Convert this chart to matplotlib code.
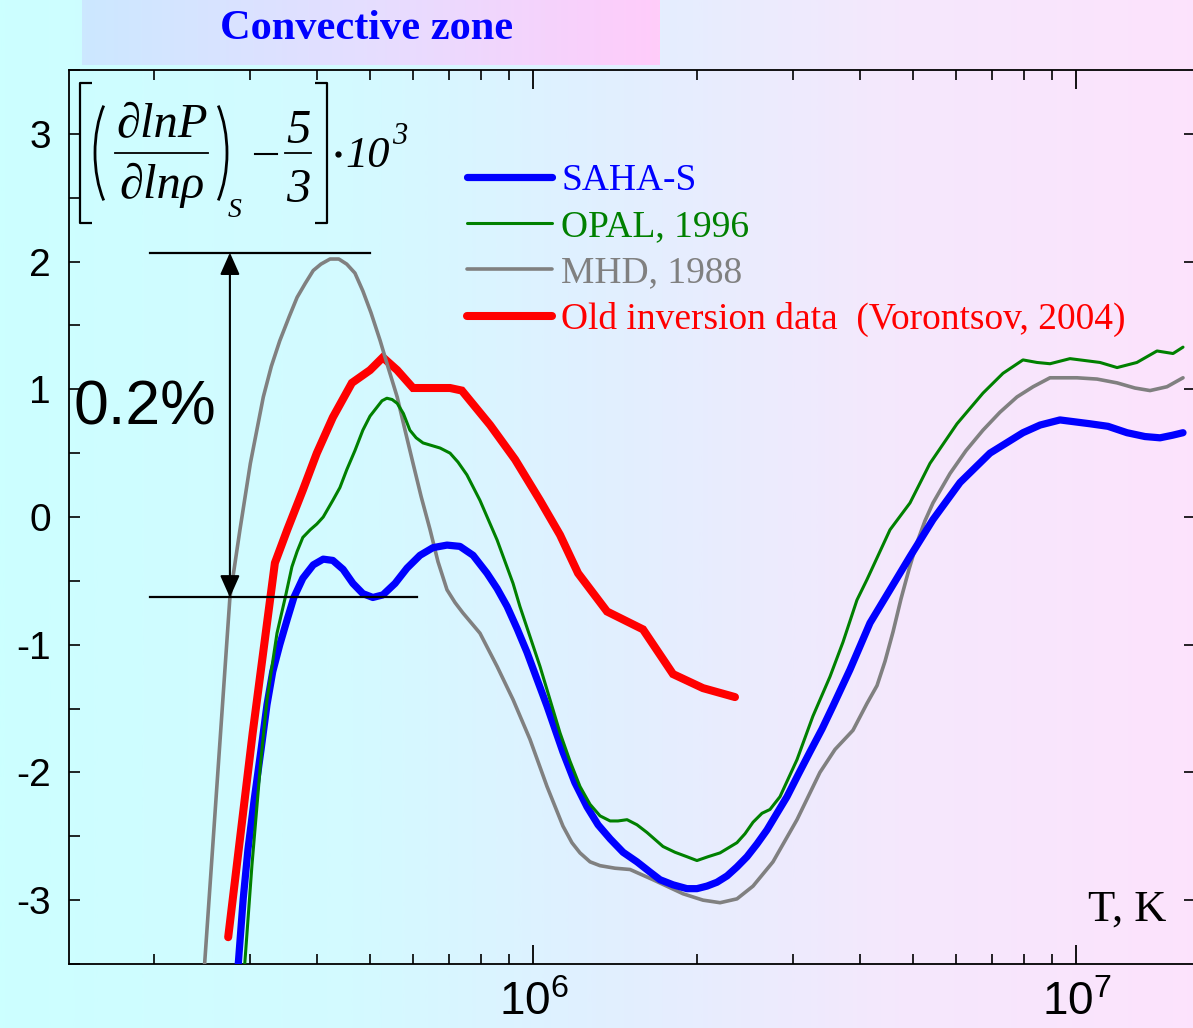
import numpy as np
import matplotlib
matplotlib.use("Agg")
import matplotlib.pyplot as plt
from matplotlib.patches import Arc
from matplotlib.ticker import FixedLocator, LogLocator, MultipleLocator, NullFormatter
from matplotlib.colors import LinearSegmentedColormap

# ---------------- data ----------------
# MHD, 1988
mhd_T = [2.47e5, 2.76e5, 2.88e5, 3.01e5, 3.18e5, 3.29e5, 3.41e5, 3.55e5, 3.67e5, 3.80e5,
         3.93e5, 4.06e5, 4.22e5, 4.38e5, 4.53e5, 4.69e5, 4.85e5, 5.02e5, 5.22e5, 5.40e5,
         5.61e5, 5.80e5, 6.00e5, 6.21e5, 6.45e5, 6.67e5, 6.93e5, 7.17e5, 7.41e5, 7.97e5,
         8.57e5, 9.17e5, 9.85e5, 1.059e6, 1.133e6, 1.177e6, 1.218e6, 1.271e6, 1.326e6, 1.413e6,
         1.506e6, 1.660e6, 1.885e6, 2.052e6, 2.206e6, 2.370e6, 2.537e6, 2.761e6, 3.057e6, 3.369e6,
         3.592e6, 3.876e6, 4.113e6, 4.292e6, 4.440e6, 4.593e6, 4.752e6, 4.915e6, 5.085e6, 5.260e6,
         5.442e6, 5.848e6, 6.26e6, 6.727e6, 7.228e6, 7.770e6, 8.32e6, 8.938e6, 1.002e7, 1.091e7,
         1.188e7, 1.281e7, 1.366e7, 1.468e7, 1.571e7]
mhd_v = [-3.6, -0.63, -0.10, 0.42, 0.94, 1.18, 1.38, 1.57, 1.72, 1.83,
         1.93, 1.98, 2.02, 2.02, 1.98, 1.91, 1.77, 1.60, 1.38, 1.17,
         0.94, 0.68, 0.42, 0.16, -0.10, -0.35, -0.57, -0.67, -0.75, -0.91,
         -1.17, -1.43, -1.74, -2.11, -2.42, -2.55, -2.63, -2.70, -2.73, -2.75,
         -2.76, -2.84, -2.95, -3.00, -3.02, -2.99, -2.89, -2.70, -2.37, -2.00,
         -1.82, -1.67, -1.46, -1.32, -1.13, -0.90, -0.64, -0.41, -0.20, -0.03,
         0.11, 0.34, 0.52, 0.68, 0.82, 0.94, 1.02, 1.09, 1.09, 1.08,
         1.05, 1.01, 0.99, 1.02, 1.09]

# OPAL, 1996
opal_T = [2.93e5, 3.03e5, 3.14e5, 3.23e5, 3.37e5, 3.49e5, 3.59e5, 3.67e5, 3.76e5, 3.88e5,
          3.99e5, 4.10e5, 4.27e5, 4.40e5, 4.53e5, 4.69e5, 4.85e5, 5.00e5, 5.15e5, 5.26e5,
          5.37e5, 5.49e5, 5.61e5, 5.76e5, 5.92e5, 6.08e5, 6.26e5, 6.73e5, 7.02e5, 7.26e5,
          7.54e5, 7.97e5, 8.57e5, 9.17e5, 9.44e5, 1.028e6, 1.119e6, 1.167e6, 1.218e6, 1.271e6,
          1.326e6, 1.384e6, 1.431e6, 1.487e6, 1.551e6, 1.618e6, 1.732e6, 1.822e6, 1.917e6, 2.000e6,
          2.096e6, 2.206e6, 2.370e6, 2.452e6, 2.537e6, 2.635e6, 2.726e6, 2.844e6, 3.057e6, 3.270e6,
          3.516e6, 3.715e6, 3.942e6, 4.113e6, 4.535e6, 4.936e6, 5.373e6, 6.025e6, 6.727e6, 7.322e6,
          7.970e6, 8.46e6, 8.938e6, 9.728e6, 1.105e7, 1.188e7, 1.292e7, 1.407e7, 1.506e7, 1.571e7]
opal_v = [-3.58, -2.73, -1.95, -1.43, -0.91, -0.63, -0.39, -0.27, -0.16, -0.10,
          -0.055, 0.00, 0.13, 0.23, 0.37, 0.52, 0.68, 0.79, 0.86, 0.91,
          0.93, 0.92, 0.89, 0.81, 0.68, 0.62, 0.58, 0.54, 0.50, 0.43,
          0.33, 0.13, -0.18, -0.52, -0.70, -1.17, -1.69, -1.91, -2.11, -2.25,
          -2.34, -2.38, -2.38, -2.37, -2.41, -2.47, -2.58, -2.625, -2.66, -2.69,
          -2.66, -2.63, -2.55, -2.48, -2.39, -2.32, -2.29, -2.19, -1.90, -1.56,
          -1.25, -0.98, -0.65, -0.49, -0.10, 0.11, 0.42, 0.73, 0.97, 1.125,
          1.23, 1.21, 1.20, 1.24, 1.21, 1.17, 1.21, 1.30, 1.28, 1.33]

# SAHA-S
saha_T = [2.85e5, 2.92e5, 2.98e5, 3.06e5, 3.15e5, 3.23e5, 3.31e5, 3.41e5, 3.52e5, 3.62e5,
          3.76e5, 3.93e5, 4.10e5, 4.27e5, 4.46e5, 4.65e5, 4.85e5, 5.06e5, 5.28e5, 5.56e5,
          5.85e5, 6.18e5, 6.53e5, 6.93e5, 7.32e5, 7.74e5, 8.21e5, 8.57e5, 8.94e5, 9.33e5,
          9.73e5, 1.015e6, 1.059e6, 1.133e6, 1.192e6, 1.255e6, 1.315e6, 1.384e6, 1.462e6, 1.551e6,
          1.639e6, 1.710e6, 1.807e6, 1.917e6, 2.000e6, 2.087e6, 2.177e6, 2.273e6, 2.370e6, 2.473e6,
          2.580e6, 2.692e6, 2.808e6, 2.930e6, 3.070e6, 3.229e6, 3.399e6, 3.561e6, 3.827e6, 4.166e6,
          4.535e6, 4.936e6, 5.442e6, 6.103e6, 6.930e6, 7.970e6, 8.57e6, 9.324e6, 1.059e7, 1.143e7,
          1.239e7, 1.337e7, 1.425e7, 1.502e7, 1.571e7]
saha_v = [-3.58, -2.99, -2.60, -2.21, -1.82, -1.47, -1.21, -1.00, -0.80, -0.63,
          -0.48, -0.375, -0.33, -0.34, -0.41, -0.52, -0.60, -0.63, -0.61, -0.52,
          -0.40, -0.30, -0.24, -0.22, -0.23, -0.30, -0.44, -0.56, -0.70, -0.875,
          -1.06, -1.27, -1.48, -1.84, -2.08, -2.27, -2.41, -2.52, -2.625, -2.70,
          -2.78, -2.84, -2.88, -2.91, -2.91, -2.89, -2.86, -2.81, -2.74, -2.66,
          -2.56, -2.45, -2.32, -2.19, -2.02, -1.84, -1.66, -1.48, -1.195, -0.83,
          -0.57, -0.31, -0.02, 0.27, 0.50, 0.66, 0.72, 0.76, 0.73, 0.71,
          0.66, 0.63, 0.62, 0.64, 0.66]

# Old inversion data (Vorontsov, 2004)
inv_T = [2.74e5, 3.04e5, 3.34e5, 3.52e5, 3.76e5, 3.99e5, 4.27e5, 4.63e5, 5.00e5, 5.28e5,
         5.61e5, 6.00e5, 7.02e5, 7.38e5, 8.32e5, 9.25e5, 1.028e6, 1.119e6, 1.208e6, 1.366e6,
         1.591e6, 1.807e6, 2.052e6, 2.350e6]
inv_v = [-3.29, -1.69, -0.36, -0.10, 0.21, 0.50, 0.78, 1.05, 1.15, 1.25,
         1.15, 1.01, 1.01, 0.99, 0.72, 0.45, 0.13, -0.14, -0.44, -0.74,
         -0.88, -1.23, -1.34, -1.41]

series_labels = ["SAHA-S", "OPAL, 1996", "MHD, 1988", "Old inversion data  (Vorontsov, 2004)"]
series_colors = ["#0000ff", "#008000", "#808080", "#ff0000"]
series_widths = [5.2, 2.2, 2.6, 5.8]

x_ticks = [1e6, 1e7]
x_tick_labels = [r"$10^6$", r"$10^7$"]
y_ticks = [-3, -2, -1, 0, 1, 2, 3]

# range marked by the double arrow
range_top, range_bottom = 2.07, -0.63

# ---------------- figure ----------------
W, H = 1193, 1028
plt.rcParams["mathtext.fontset"] = "custom"
plt.rcParams["mathtext.rm"] = "Liberation Sans"
plt.rcParams["mathtext.it"] = "Liberation Sans:italic"
plt.rcParams["mathtext.bf"] = "Liberation Sans:bold"
plt.rcParams["font.family"] = "Liberation Sans"

fig = plt.figure(figsize=(W / 100, H / 100), dpi=100)


def fx(px):
    return px / W


def fy(py):
    return 1 - py / H


# background gradient (cyan -> light blue -> pink)
bg = fig.add_axes([0, 0, 1, 1], zorder=-10)
bg_cmap = LinearSegmentedColormap.from_list(
    "bg", [(0.0, (0.80, 1.00, 1.00)), (0.30, (0.83, 0.98, 1.00)), (0.50, (0.88, 0.94, 1.00)),
           (0.75, (0.96, 0.91, 0.99)), (1.0, (0.99, 0.89, 0.99))])
bg.imshow(np.linspace(0, 1, 600)[None, :], aspect="auto", cmap=bg_cmap, extent=[0, 1, 0, 1])
bg.axis("off")

# banner
ban = fig.add_axes([fx(82), fy(65), fx(660 - 82), 65 / H], zorder=-5)
ban_cmap = LinearSegmentedColormap.from_list(
    "ban", [(0.0, (0.80, 0.91, 1.00)), (0.5, (0.90, 0.87, 1.00)), (1.0, (1.00, 0.80, 0.98))])
ban.imshow(np.linspace(0, 1, 300)[None, :], aspect="auto", cmap=ban_cmap, extent=[0, 1, 0, 1])
ban.axis("off")
fig.text(fx(367), fy(29), "Convective zone", ha="center", va="center",
         family="Liberation Serif", weight="bold", size=30.5, color="#0000ff")

# main axes
ax = fig.add_axes([fx(69), fy(964), fx(1195 - 69), (964 - 70) / H])
ax.patch.set_alpha(0)
ax.set_xscale("log")
ax.set_xlim(1.395e5, 1.653e7)
ax.set_ylim(-3.5, 3.5)

ax.plot(inv_T, inv_v, color=series_colors[3], lw=series_widths[3], solid_capstyle="round",
        solid_joinstyle="miter", zorder=3)
ax.plot(mhd_T, mhd_v, color=series_colors[2], lw=series_widths[2], solid_capstyle="round",
        solid_joinstyle="round", zorder=4)
ax.plot(saha_T, saha_v, color=series_colors[0], lw=series_widths[0], solid_capstyle="round",
        solid_joinstyle="round", zorder=5)
ax.plot(opal_T, opal_v, color=series_colors[1], lw=series_widths[1], solid_capstyle="round",
        solid_joinstyle="round", zorder=6)

# 0.2% range marker
ax.plot([1.97e5, 5.0e5], [range_top, range_top], color="k", lw=1.6, zorder=7)
ax.plot([1.97e5, 6.1e5], [range_bottom, range_bottom], color="k", lw=1.6, zorder=7)
ax.annotate("", xy=(2.76e5, range_top), xytext=(2.76e5, range_bottom),
            arrowprops=dict(arrowstyle="<|-|>,head_length=0.45,head_width=0.2", color="k",
                            lw=1.5, mutation_scale=30, shrinkA=0, shrinkB=0), zorder=7)
fig.text(fx(73), fy(408), "0.2%", ha="left", va="center", size=45, family="Liberation Sans")

# ticks
ax.xaxis.set_major_locator(FixedLocator(x_ticks))
ax.set_xticklabels(x_tick_labels)
ax.xaxis.set_minor_locator(LogLocator(base=10, subs=np.arange(2, 10)))
ax.xaxis.set_minor_formatter(NullFormatter())
ax.set_yticks(y_ticks)
ax.set_yticklabels([str(v) for v in y_ticks])
ax.yaxis.set_minor_locator(MultipleLocator(0.5))

ax.tick_params(axis="x", which="major", direction="in", top=True, bottom=True,
               length=14, width=1.3, labelsize=33, pad=12)
ax.tick_params(axis="x", which="minor", direction="in", top=True, bottom=True,
               length=7, width=1.2)
ax.tick_params(axis="y", which="major", direction="in", left=True, right=True,
               length=8, width=1.2, labelsize=28, pad=13)
ax.tick_params(axis="y", which="minor", direction="in", left=True, right=False,
               length=8, width=1.2)
for sp in ax.spines.values():
    sp.set_linewidth(1.3)

# axis title
fig.text(fx(1166), fy(910), "T, K", ha="right", va="center", size=32,
         family="Liberation Serif")

# legend
legend_rows = [177, 223, 269, 316]
for lab, col, lw, py in zip(series_labels, series_colors, series_widths, legend_rows):
    fig.add_artist(plt.Line2D([fx(467), fx(552)], [fy(py), fy(py)], color=col, lw=lw,
                              solid_capstyle="round"))
    fig.text(fx(561), fy(py + 13), lab, ha="left", va="baseline", size=27,
             family="Liberation Serif", color=col)

# ---------------- quantity formula, laid out in figure pixels ----------------
ov = fig.add_axes([0, 0, 1, 1], zorder=20)
ov.set_xlim(0, W)
ov.set_ylim(H, 0)
ov.axis("off")
serif_it = dict(family=["Liberation Serif", "DejaVu Serif"], style="italic", color="k")
stroke = dict(color="k", lw=1.6, solid_capstyle="butt")

# square brackets
ov.plot([92, 80, 80, 92], [83, 83, 223, 223], **stroke)
ov.plot([315, 327, 327, 315], [83, 83, 223, 223], **stroke)
# round brackets
ov.add_patch(Arc((135, 153), 80, 152, theta1=123.4, theta2=236.6, color="k", lw=2.0))
ov.add_patch(Arc((187, 153), 80, 152, theta1=-56.6, theta2=56.6, color="k", lw=2.0))
# derivative fraction
ov.text(162, 137, "\u2202lnP", ha="center", va="baseline", size=35, **serif_it)
ov.plot([115, 208], [153, 153], color="k", lw=1.3)
ov.text(162, 198, "\u2202ln\u03c1", ha="center", va="baseline", size=35, **serif_it)
ov.text(228, 217, "S", ha="left", va="baseline", size=20, **serif_it)
# minus five thirds
ov.plot([255, 277], [154, 154], color="k", lw=1.5)
ov.text(298, 143, "5", ha="center", va="baseline", size=35, **serif_it)
ov.plot([285, 311], [153, 153], color="k", lw=1.3)
ov.text(298, 202, "3", ha="center", va="baseline", size=35, **serif_it)
# times ten cubed
ov.plot([338], [154], marker="o", ms=3.5, color="k")
ov.text(345, 167, "10", ha="left", va="baseline", size=32, **serif_it)
ov.text(392, 144, "3", ha="left", va="baseline", size=22, **serif_it)

fig.savefig("out.png", dpi=100)
